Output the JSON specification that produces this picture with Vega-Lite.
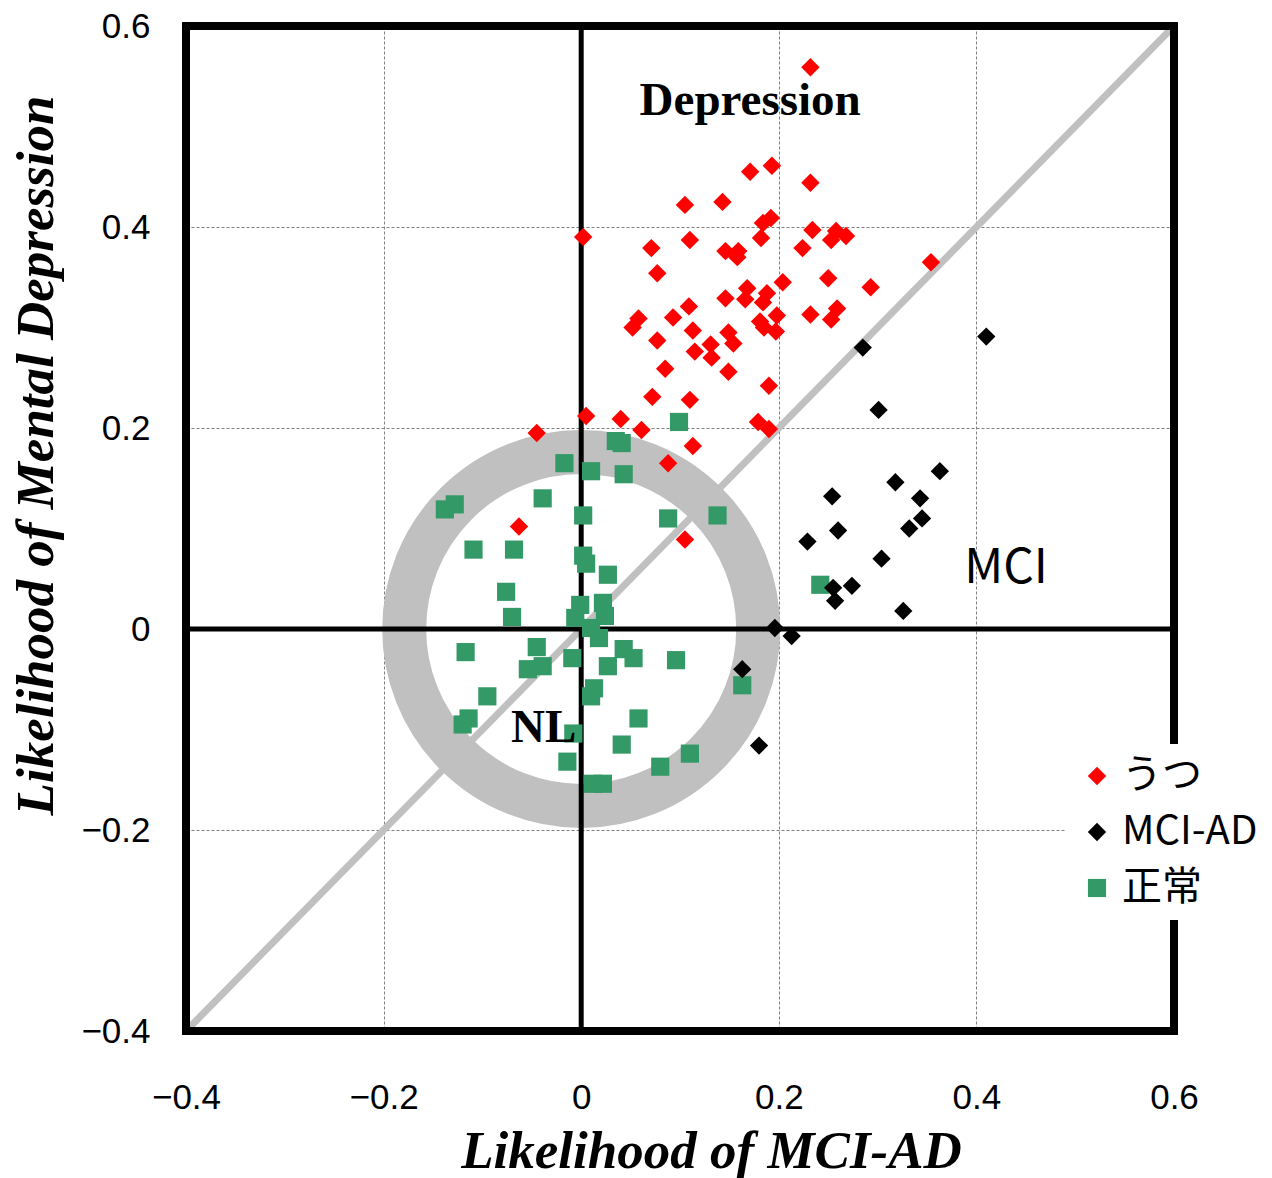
{
  "$schema": "https://vega.github.io/schema/vega-lite/v6.json",
  "width": 988,
  "height": 1005,
  "autosize": {"type": "none"},
  "padding": {"left": 186, "top": 26, "right": 98, "bottom": 147},
  "background": "white",
  "config": {"view": {"stroke": null}},
  "datasets": {
    "pts": [
      {"g":"うつ","x":0.232,"y":0.559},{"g":"うつ","x":0.193,"y":0.461},{"g":"うつ","x":0.171,"y":0.455},{"g":"うつ","x":0.232,"y":0.444},
      {"g":"うつ","x":0.105,"y":0.422},{"g":"うつ","x":0.143,"y":0.425},{"g":"うつ","x":0.192,"y":0.409},{"g":"うつ","x":0.184,"y":0.404},
      {"g":"うつ","x":0.234,"y":0.397},{"g":"うつ","x":0.258,"y":0.396},{"g":"うつ","x":0.268,"y":0.391},{"g":"うつ","x":0.253,"y":0.387},
      {"g":"うつ","x":0.002,"y":0.390},{"g":"うつ","x":0.071,"y":0.379},{"g":"うつ","x":0.110,"y":0.387},{"g":"うつ","x":0.182,"y":0.389},
      {"g":"うつ","x":0.146,"y":0.376},{"g":"うつ","x":0.159,"y":0.376},{"g":"うつ","x":0.158,"y":0.370},{"g":"うつ","x":0.224,"y":0.379},
      {"g":"うつ","x":0.354,"y":0.365},{"g":"うつ","x":0.077,"y":0.354},{"g":"うつ","x":0.250,"y":0.349},{"g":"うつ","x":0.204,"y":0.345},
      {"g":"うつ","x":0.293,"y":0.340},{"g":"うつ","x":0.168,"y":0.339},{"g":"うつ","x":0.188,"y":0.334},{"g":"うつ","x":0.146,"y":0.329},
      {"g":"うつ","x":0.166,"y":0.328},{"g":"うつ","x":0.184,"y":0.325},{"g":"うつ","x":0.109,"y":0.321},{"g":"うつ","x":0.259,"y":0.319},
      {"g":"うつ","x":0.232,"y":0.313},{"g":"うつ","x":0.198,"y":0.312},{"g":"うつ","x":0.058,"y":0.309},{"g":"うつ","x":0.093,"y":0.310},
      {"g":"うつ","x":0.253,"y":0.308},{"g":"うつ","x":0.052,"y":0.300},{"g":"うつ","x":0.181,"y":0.306},{"g":"うつ","x":0.185,"y":0.300},
      {"g":"うつ","x":0.113,"y":0.297},{"g":"うつ","x":0.197,"y":0.296},{"g":"うつ","x":0.149,"y":0.295},{"g":"うつ","x":0.077,"y":0.287},
      {"g":"うつ","x":0.131,"y":0.283},{"g":"うつ","x":0.154,"y":0.284},{"g":"うつ","x":0.115,"y":0.276},{"g":"うつ","x":0.132,"y":0.270},
      {"g":"うつ","x":0.085,"y":0.259},{"g":"うつ","x":0.149,"y":0.256},{"g":"うつ","x":0.190,"y":0.242},{"g":"うつ","x":0.072,"y":0.231},
      {"g":"うつ","x":0.110,"y":0.228},{"g":"うつ","x":0.005,"y":0.212},{"g":"うつ","x":0.040,"y":0.209},{"g":"うつ","x":0.179,"y":0.206},
      {"g":"うつ","x":0.190,"y":0.199},{"g":"うつ","x":0.061,"y":0.198},{"g":"うつ","x":-0.045,"y":0.195},{"g":"うつ","x":0.113,"y":0.182},
      {"g":"うつ","x":0.088,"y":0.165},{"g":"うつ","x":-0.063,"y":0.102},{"g":"うつ","x":0.105,"y":0.089},
      {"g":"正常","x":-0.128,"y":0.124},{"g":"正常","x":-0.138,"y":0.119},{"g":"正常","x":-0.039,"y":0.130},{"g":"正常","x":0.002,"y":0.113},
      {"g":"正常","x":0.088,"y":0.110},{"g":"正常","x":0.138,"y":0.113},{"g":"正常","x":-0.109,"y":0.079},{"g":"正常","x":-0.068,"y":0.079},
      {"g":"正常","x":0.002,"y":0.073},{"g":"正常","x":0.005,"y":0.065},{"g":"正常","x":0.027,"y":0.054},{"g":"正常","x":-0.076,"y":0.037},
      {"g":"正常","x":-0.070,"y":0.012},{"g":"正常","x":-0.001,"y":0.024},{"g":"正常","x":-0.006,"y":0.011},{"g":"正常","x":0.022,"y":0.026},
      {"g":"正常","x":0.024,"y":0.013},{"g":"正常","x":0.010,"y":0.001},{"g":"正常","x":0.018,"y":-0.009},{"g":"正常","x":-0.117,"y":-0.023},
      {"g":"正常","x":-0.045,"y":-0.018},{"g":"正常","x":-0.009,"y":-0.029},{"g":"正常","x":0.043,"y":-0.020},{"g":"正常","x":0.053,"y":-0.029},
      {"g":"正常","x":0.096,"y":-0.031},{"g":"正常","x":-0.054,"y":-0.040},{"g":"正常","x":-0.039,"y":-0.037},{"g":"正常","x":0.027,"y":-0.037},
      {"g":"正常","x":0.163,"y":-0.056},{"g":"正常","x":-0.095,"y":-0.067},{"g":"正常","x":0.013,"y":-0.059},{"g":"正常","x":0.010,"y":-0.067},
      {"g":"正常","x":-0.114,"y":-0.089},{"g":"正常","x":-0.120,"y":-0.095},{"g":"正常","x":0.058,"y":-0.089},{"g":"正常","x":-0.008,"y":-0.104},
      {"g":"正常","x":0.041,"y":-0.115},{"g":"正常","x":-0.014,"y":-0.132},{"g":"正常","x":0.110,"y":-0.124},{"g":"正常","x":0.080,"y":-0.137},
      {"g":"正常","x":0.012,"y":-0.154},{"g":"正常","x":0.022,"y":-0.154},{"g":"正常","x":0.099,"y":0.206},{"g":"正常","x":0.035,"y":0.187},
      {"g":"正常","x":0.041,"y":0.185},{"g":"正常","x":-0.017,"y":0.165},{"g":"正常","x":0.010,"y":0.157},{"g":"正常","x":0.043,"y":0.154},
      {"g":"正常","x":0.242,"y":0.044},
      {"g":"MCI-AD","x":0.410,"y":0.291},{"g":"MCI-AD","x":0.285,"y":0.280},{"g":"MCI-AD","x":0.301,"y":0.218},{"g":"MCI-AD","x":0.363,"y":0.157},
      {"g":"MCI-AD","x":0.318,"y":0.146},{"g":"MCI-AD","x":0.343,"y":0.130},{"g":"MCI-AD","x":0.254,"y":0.132},{"g":"MCI-AD","x":0.345,"y":0.110},
      {"g":"MCI-AD","x":0.332,"y":0.100},{"g":"MCI-AD","x":0.260,"y":0.098},{"g":"MCI-AD","x":0.229,"y":0.087},{"g":"MCI-AD","x":0.304,"y":0.070},
      {"g":"MCI-AD","x":0.274,"y":0.043},{"g":"MCI-AD","x":0.255,"y":0.041},{"g":"MCI-AD","x":0.257,"y":0.028},{"g":"MCI-AD","x":0.326,"y":0.018},
      {"g":"MCI-AD","x":0.196,"y":0.001},{"g":"MCI-AD","x":0.213,"y":-0.007},{"g":"MCI-AD","x":0.163,"y":-0.040},{"g":"MCI-AD","x":0.180,"y":-0.116}
    ]
  },
  "layer": [
    {
      "data": {"values": [{"x": 0, "y": 0}]},
      "mark": {"type": "point", "shape": "circle", "size": 125316, "filled": false, "stroke": "#C0C0C0", "strokeWidth": 44, "opacity": 1},
      "encoding": {
        "x": {"field": "x", "type": "quantitative", "title": "Likelihood of MCI-AD",
          "scale": {"domain": [-0.4, 0.6], "nice": false, "zero": false},
          "axis": {"values": [-0.4, -0.2, 0, 0.2, 0.4, 0.6], "format": ".1~f", "grid": true, "gridDash": [3, 2], "gridColor": "#7f7f7f", "gridWidth": 1,
            "domain": false, "ticks": false, "labelFont": "Liberation Sans", "labelFontSize": 35, "labelColor": "black", "labelPadding": 49,
            "labelFlush": false, "labelOverlap": false, "labelBound": false,
            "titleFont": "Liberation Serif", "titleFontSize": 53, "titleFontStyle": "italic", "titleFontWeight": "bold", "titleColor": "black",
            "titleX": 525, "titleY": 136, "titleBaseline": "alphabetic", "titleAlign": "center"}},
        "y": {"field": "y", "type": "quantitative", "title": "Likelihood of Mental Depression",
          "scale": {"domain": [-0.4, 0.6], "nice": false, "zero": false},
          "axis": {"values": [-0.4, -0.2, 0, 0.2, 0.4, 0.6], "format": ".1~f", "grid": true, "gridDash": [3, 2], "gridColor": "#7f7f7f", "gridWidth": 1,
            "domain": false, "ticks": false, "labelFont": "Liberation Sans", "labelFontSize": 35, "labelColor": "black", "labelPadding": 36,
            "labelFlush": false, "labelOverlap": false, "labelBound": false,
            "titleFont": "Liberation Serif", "titleFontSize": 53, "titleFontStyle": "italic", "titleFontWeight": "bold", "titleColor": "black",
            "titleX": -134, "titleY": 429, "titleAngle": 270, "titleBaseline": "alphabetic", "titleAlign": "center"}}
      }
    },
    {
      "data": {"values": [{"x": -0.4, "y": -0.4, "x2": 0.6, "y2": 0.6}]},
      "mark": {"type": "rule", "color": "#C0C0C0", "strokeWidth": 7},
      "encoding": {
        "x": {"field": "x", "type": "quantitative", "title": "Likelihood of MCI-AD"},
        "y": {"field": "y", "type": "quantitative", "title": "Likelihood of Mental Depression"},
        "x2": {"field": "x2"}, "y2": {"field": "y2"}
      }
    },
    {
      "data": {"values": [{"x": 0, "y": -0.4, "x2": 0, "y2": 0.6}, {"x": -0.4, "y": 0, "x2": 0.6, "y2": 0}]},
      "mark": {"type": "rule", "color": "black", "strokeWidth": 5},
      "encoding": {
        "x": {"field": "x", "type": "quantitative", "title": "Likelihood of MCI-AD"},
        "y": {"field": "y", "type": "quantitative", "title": "Likelihood of Mental Depression"},
        "x2": {"field": "x2"}, "y2": {"field": "y2"}
      }
    },
    {
      "data": {"values": [
        {"x": -0.4, "y": -0.4, "x2": 0.6, "y2": -0.4},
        {"x": -0.4, "y": 0.6, "x2": 0.6, "y2": 0.6},
        {"x": -0.4, "y": -0.4, "x2": -0.4, "y2": 0.6},
        {"x": 0.6, "y": -0.4, "x2": 0.6, "y2": 0.6}
      ]},
      "mark": {"type": "rule", "color": "black", "strokeWidth": 8, "strokeCap": "square"},
      "encoding": {
        "x": {"field": "x", "type": "quantitative", "title": "Likelihood of MCI-AD"},
        "y": {"field": "y", "type": "quantitative", "title": "Likelihood of Mental Depression"},
        "x2": {"field": "x2"}, "y2": {"field": "y2"}
      }
    },
    {
      "data": {"name": "pts"},
      "mark": {"type": "point", "filled": true, "opacity": 1, "strokeWidth": 0},
      "encoding": {
        "x": {"field": "x", "type": "quantitative", "title": "Likelihood of MCI-AD"},
        "y": {"field": "y", "type": "quantitative", "title": "Likelihood of Mental Depression"},
        "color": {"field": "g", "type": "nominal", "title": null,
          "scale": {"domain": ["うつ", "MCI-AD", "正常"], "range": ["#FF0000", "#000000", "#339966"]},
          "legend": {"orient": "none", "legendX": 879, "legendY": 718, "title": null, "fillColor": "white", "padding": 12,
            "labelFontSize": 40, "labelFont": "Noto Sans CJK JP", "labelColor": "black", "rowPadding": 16, "labelOffset": 5,
            "symbolStrokeWidth": 0, "zindex": 1}},
        "shape": {"field": "g", "type": "nominal", "title": null,
          "scale": {"domain": ["うつ", "MCI-AD", "正常"], "range": ["diamond", "diamond", "square"]}},
        "size": {"field": "g", "type": "nominal", "title": null,
          "scale": {"domain": ["うつ", "MCI-AD", "正常"], "range": [340, 330, 256]}}
      }
    },
    {
      "data": {"values": [{"x": 0.171, "y": 0.511, "t": "Depression"}, {"x": -0.038, "y": -0.112, "t": "NL"}]},
      "mark": {"type": "text", "font": "Liberation Serif", "fontWeight": "bold", "fontSize": 47, "color": "black", "align": "center", "baseline": "alphabetic"},
      "encoding": {
        "x": {"field": "x", "type": "quantitative", "title": "Likelihood of MCI-AD"},
        "y": {"field": "y", "type": "quantitative", "title": "Likelihood of Mental Depression"},
        "text": {"field": "t"}
      }
    },
    {
      "data": {"values": [{"x": 0.430, "y": 0.046, "t": "MCI"}]},
      "mark": {"type": "text", "font": "Noto Sans CJK JP", "fontSize": 48, "color": "black", "align": "center", "baseline": "alphabetic"},
      "encoding": {
        "x": {"field": "x", "type": "quantitative", "title": "Likelihood of MCI-AD"},
        "y": {"field": "y", "type": "quantitative", "title": "Likelihood of Mental Depression"},
        "text": {"field": "t"}
      }
    }
  ]
}
